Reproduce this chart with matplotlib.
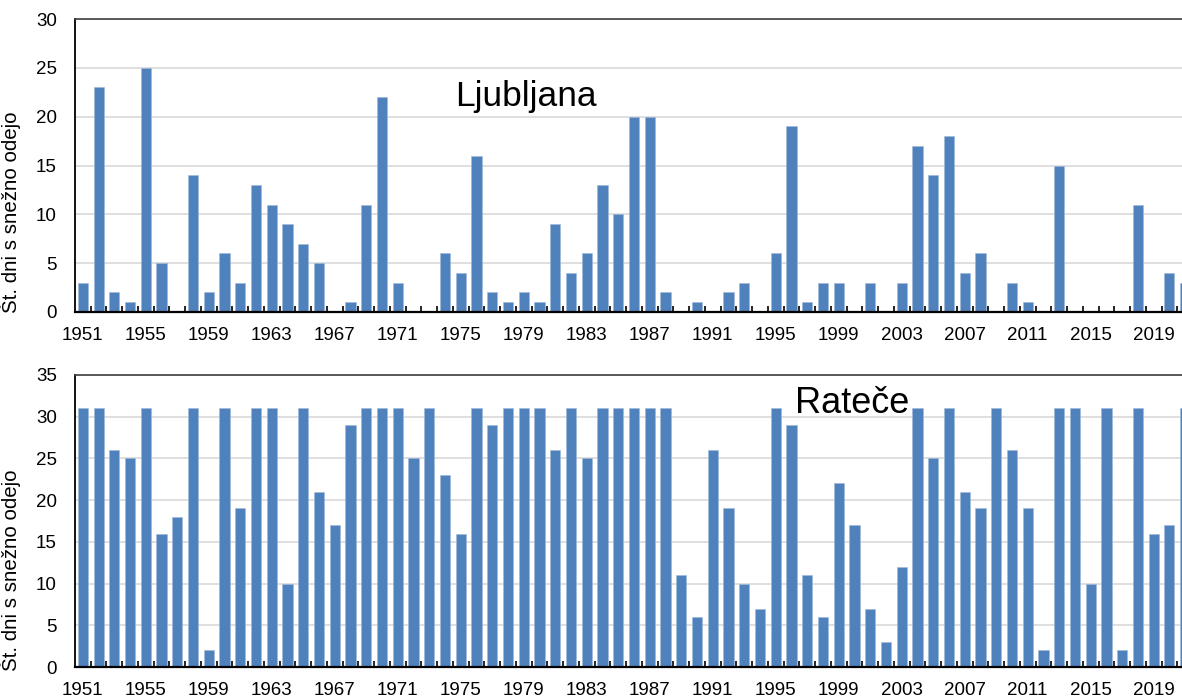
import numpy as np
import matplotlib
matplotlib.use('Agg')
import matplotlib.pyplot as plt

plt.rcParams['font.family'] = ['Liberation Sans', 'DejaVu Sans']

years = list(range(1951, 2022))

# Ljubljana, days with snow cover
ljubljana = [3, 23, 2, 1, 25, 5, 0, 14, 2, 6,
             3, 13, 11, 9, 7, 5, 0, 1, 11, 22,
             3, 0, 0, 6, 4, 16, 2, 1, 2, 1,
             9, 4, 6, 13, 10, 20, 20, 2, 0, 1,
             0, 2, 3, 0, 6, 19, 1, 3, 3, 0,
             3, 0, 3, 17, 14, 18, 4, 6, 0, 3,
             1, 0, 15, 0, 0, 0, 0, 11, 0, 4,
             3]

# Ratece
ratece = [31, 31, 26, 25, 31, 16, 18, 31, 2, 31,
          19, 31, 31, 10, 31, 21, 17, 29, 31, 31,
          31, 25, 31, 23, 16, 31, 29, 31, 31, 31,
          26, 31, 25, 31, 31, 31, 31, 31, 11, 6,
          26, 19, 10, 7, 31, 29, 11, 6, 22, 17,
          7, 3, 12, 31, 25, 31, 21, 19, 31, 26,
          19, 2, 31, 31, 10, 31, 2, 31, 16, 17,
          31]

ylabel = "Št. dni s snežno odejo"
tick_years = list(range(1951, 2020, 4))

W, H = 1182, 697
fig = plt.figure(figsize=(W/100, H/100), dpi=100)

def px_axes(left, top, right, bottom):
    return fig.add_axes([left/W, 1-bottom/H, (right-left)/W, (bottom-top)/H])

ax1 = px_axes(75, 19, 1193, 312)
ax2 = px_axes(75, 375, 1193, 667)

panels = [(ax1, ljubljana, 30, "Ljubljana", (455, 106), 25.5, 0.34),
          (ax2, ratece, 35, "Rateče", (795, 413), 26, 0.33)]

for ax, vals, ymax, name, (tx, ty), fs, ly in panels:
    ax.bar(years, vals, width=0.65, color='#4F81BD', edgecolor='#9fb8d8',
           linewidth=0.4, zorder=3)
    ax.set_xlim(1950.5, 2021.5)
    ax.set_ylim(0, ymax)
    ax.set_yticks(np.arange(0, ymax+1, 5))
    ax.yaxis.grid(True, color='#d9d9d9', linewidth=1.2, zorder=0)
    ax.set_xticks(tick_years)
    ax.set_xticks(np.arange(1951.5, 2021, 1), minor=True)
    ax.tick_params(axis='x', which='major', length=0, pad=11, labelsize=13.5)
    ax.tick_params(axis='x', which='minor', direction='in', length=4,
                   width=1.2, color='black')
    ax.tick_params(axis='y', length=0, pad=13, labelsize=13.5)
    ax.spines['left'].set_color('black')
    ax.spines['left'].set_linewidth(1.3)
    ax.spines['bottom'].set_color('black')
    ax.spines['bottom'].set_linewidth(1.6)
    ax.spines['bottom'].set_zorder(4)
    ax.spines['top'].set_color('#404040')
    ax.spines['top'].set_linewidth(1.2)
    ax.spines['right'].set_visible(False)
    ax.set_ylabel(ylabel, fontsize=14.8)
    ax.yaxis.set_label_coords(-0.048, ly)
    fig.text(tx/W, 1-ty/H, name, fontsize=fs, ha='left', va='baseline')

fig.savefig('out.png', dpi=100)
